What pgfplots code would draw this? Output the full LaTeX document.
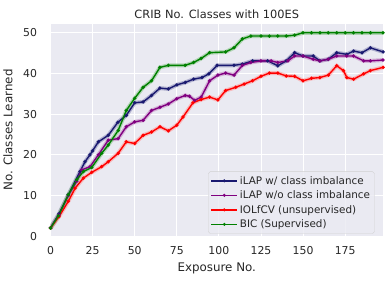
\documentclass[border=0pt]{standalone}
\usepackage{pgfplots}
\pgfplotsset{compat=1.18}
\usepackage{fontspec}
\setmainfont{DejaVu Sans}
\definecolor{sbbg}{HTML}{EAEAF2}
\definecolor{txt}{HTML}{262626}
\definecolor{cblue}{HTML}{191970}
\definecolor{cpurple}{HTML}{800080}
\definecolor{cred}{HTML}{FF0000}
\definecolor{cgreen}{HTML}{008000}
\begin{document}
\begin{tikzpicture}[x=1bp,y=1bp]
\begin{axis}[
  name=ax,
  scale only axis, width=335bp, height=214bp,
  xmin=0, xmax=197.5, ymin=0, ymax=52.2,
  xtick={0,25,50,75,100,125,150,175},
  ytick={0,10,20,30,40,50},
  axis background/.style={fill=sbbg},
  axis line style={draw=none},
  major tick length=0pt,
  grid=major, grid style={white, line width=0.9bp},
  tick label style={font=\fontsize{11}{13}\selectfont, color=txt},
  xticklabel style={yshift=-7bp},
  yticklabel style={xshift=-10bp},
  /pgf/number format/assume math mode=true,
  xlabel={Exposure No.}, ylabel={No. Classes Learned},
  label style={font=\fontsize{12}{14}\selectfont, color=txt},
  title={CRIB No. Classes with 100ES},
  title style={font=\fontsize{11.5}{13}\selectfont, color=txt, yshift=-4bp},
  xlabel style={yshift=-1bp}, ylabel style={yshift=4bp},
  legend style={font=\fontsize{10.5}{12.5}\selectfont, text=txt, fill=sbbg, fill opacity=0.8, text opacity=1, draw=black!18, rounded corners=2bp, at={(0.975,0.012)}, anchor=south east, row sep=1.2bp, inner sep=2.5bp},
  legend cell align=left,
  legend image code/.code={\draw[#1, mark repeat=2, mark phase=2, mark size=0.7bp] plot coordinates {(0bp,0bp) (13bp,0bp) (26bp,0bp)};},
  every axis plot/.append style={line width=1.4bp, mark=*, mark size=0.9bp},
]
\pgfplotstableread{
x y
0 2.1
5 5.5
10.6 10.2
17.5 15.9
20.5 18.3
23.4 20
25 21
28.4 23.2
34.3 24.8
40 28
45 29.7
50 32.8
55 33
60 34.6
65 36.4
70 36.2
75 37.2
80 37.8
85 38.6
90 39
94 39.9
99 42
109 42
114 42.3
120 43.1
129 43.1
135 41.9
140 43.1
145 45.1
150 44.3
156 44.3
160 43.1
165 43.5
170 45.1
176 44.7
180 45.5
185 45.1
190 46.3
197.5 45.3
}\blue
\pgfplotstableread{
x y
0 2
5 5.2
10.6 10
15.6 13.5
18.5 16.3
23.5 17.1
28.4 20
34.3 23.6
40.2 24
45 26.9
50 28.1
55 28.5
60 30.9
65 31.7
70 32.5
75 33.8
80 34.6
82.6 34.4
85.6 33.4
89.5 34.2
94.5 38.2
99.4 39.6
104 40.1
109 39.6
114 42
119 42.7
125 43.1
131 43.1
135 42.7
141 43.1
145 44.3
150 44.3
156 43.5
160 43.1
165 43.5
170 44.3
176 44.3
180 44.3
186 43.1
190 43.1
197.5 43.3
}\purple
\pgfplotstableread{
x y
0 2
5 4.8
10.6 8.6
14.6 11.8
19.5 14.3
24.5 15.7
30.4 17.1
34.3 18.3
40.2 20.4
45 23.2
50 22.8
55 24.8
60 25.6
65 26.9
70 25.9
75 27.3
78.7 29.3
84.6 32.8
89.5 33.6
94.5 34.2
99.4 33.5
104 35.8
110 36.6
115 37.4
120 38.2
125 39.3
130 40.1
135 40.1
140 39.4
145 39.3
150 38.2
155 38.8
160 39
165 39.6
170 41.9
174 40.7
176 39
180 38.6
186 39.9
190 40.7
197.5 41.5
}\red
\pgfplotstableread{
x y
0 2
4.7 5
10.6 10.2
15.6 13.9
19.5 15.9
24.5 16.9
30.4 20.4
34.3 22.4
40.2 26
45 30.9
50 33.9
55 36.6
60 38.2
65 41.5
70 42
80 42
85 42.7
89.5 43.7
94.5 45.1
104 45.3
109 46.3
114 48.5
119 49.2
125 49.2
130 49.2
135 49.2
140 49.2
145 49.4
150 50
155 50
160 50
165 50
170 50
175 50
180 50
185 50
190 50
197.5 50
}\green
\addplot[cblue!50!white, opacity=0.6, line width=4bp, mark=none, forget plot] table {\blue};
\addplot[cpurple!45!white, opacity=0.6, line width=4bp, mark=none, forget plot] table {\purple};
\addplot[cred!40!white, opacity=0.6, line width=4bp, mark=none, forget plot] table {\red};
\addplot[cgreen!45!white, opacity=0.6, line width=4bp, mark=none, forget plot] table {\green};
\addplot[cblue] table {\blue};
\addplot[cpurple] table {\purple};
\addplot[cred] table {\red};
\addplot[cgreen] table {\green};
\legend{iLAP w/ class imbalance, iLAP w/o class imbalance, IOLfCV (unsupervised), BIC (Supervised)}
\end{axis}
\path (ax.south west) ++(-48bp,-46bp);
\path (ax.north east) ++(6bp,24bp);
\end{tikzpicture}
\end{document}
